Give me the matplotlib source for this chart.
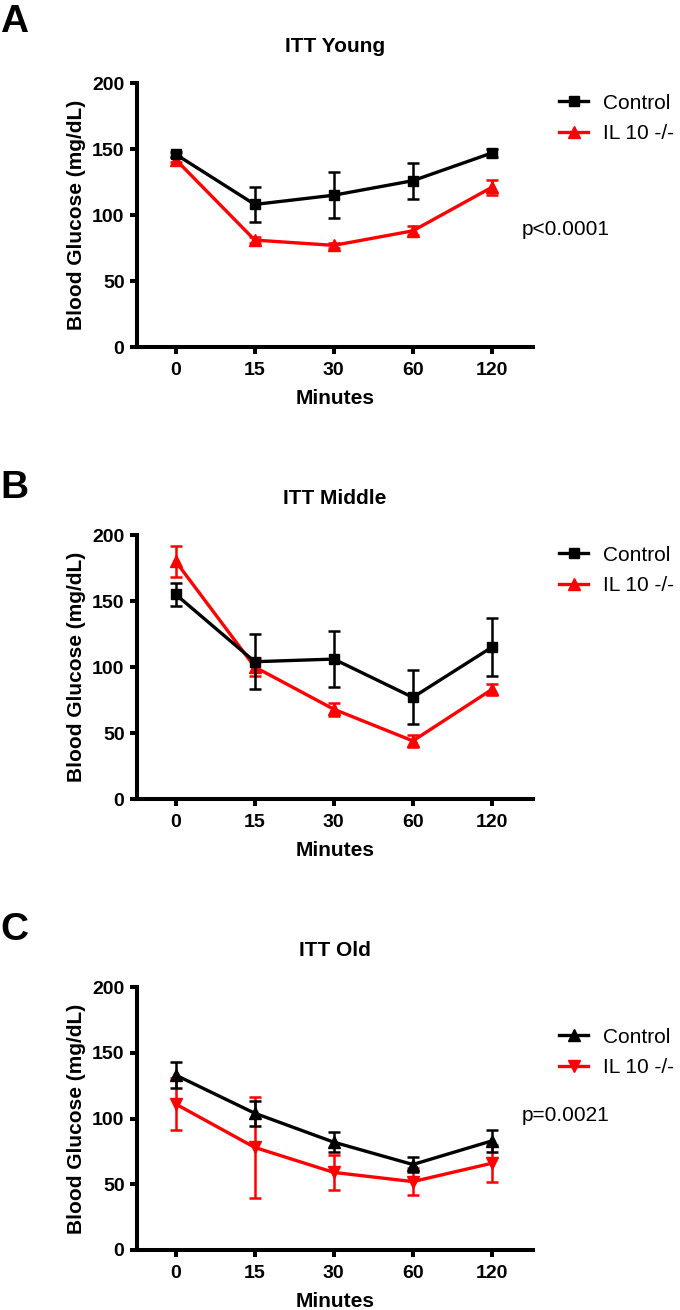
import numpy as np
import matplotlib
matplotlib.use('Agg')
import matplotlib.pyplot as plt
from matplotlib.lines import Line2D

plt.rcParams['font.family'] = ['Liberation Sans', 'DejaVu Sans']

# time points (categorical, evenly spaced)
minutes = ['0', '15', '30', '60', '120']

# ITT Young
young_ctrl = [146, 108, 115, 126, 147]
young_ctrl_err = [2, 13, 17.5, 13.5, 3]
young_ko = [142, 81, 77, 88, 121]
young_ko_err = [2, 2, 2, 3.5, 5.5]

# ITT Middle
middle_ctrl = [155, 104, 106, 77, 115]
middle_ctrl_err = [9, 21, 21, 20.5, 22]
middle_ko = [180, 100, 68, 44, 83]
middle_ko_err = [11.5, 7, 5, 4.5, 4]

# ITT Old
old_ctrl = [133, 104, 82, 65, 83]
old_ctrl_err = [10, 9.5, 7.5, 5.5, 8.5]
old_ko = [111, 78, 59, 52, 66]
old_ko_err = [19.5, 38.5, 13.5, 10.5, 14]

panels = [
    ('A', 'ITT Young', young_ctrl, young_ctrl_err, young_ko, young_ko_err, 's', '^', 'p<0.0001'),
    ('B', 'ITT Middle', middle_ctrl, middle_ctrl_err, middle_ko, middle_ko_err, 's', '^', None),
    ('C', 'ITT Old', old_ctrl, old_ctrl_err, old_ko, old_ko_err, '^', 'v', 'p=0.0021'),
]

# axes frames in pixels: (top, bottom) of the plot area
frames = [(83, 347), (535, 799), (987, 1250)]
letter_y = [4, 470, 912]
legend_top = [0.96, 0.96, 0.845]
pval_y = [0.445, None, 0.51]

W, H = 680, 1310
fig = plt.figure(figsize=(W / 100, H / 100), dpi=100)

RED = '#ff0000'
x = np.arange(len(minutes))


def msize(m):
    # squares look larger than triangles at the same size
    return 7.5 if m == 's' else 8.5


for i, (letter, title, c, ce, k, ke, mc, mk, ptxt) in enumerate(panels):
    top, bot = frames[i]
    ax = fig.add_axes([137 / W, 1 - bot / H, (533 - 137) / W, (bot - top) / H])

    ax.errorbar(x, c, yerr=ce, color='black', lw=2.4, marker=mc, ms=msize(mc),
                elinewidth=1.8, capsize=4, capthick=1.8, zorder=3)
    ax.errorbar(x, k, yerr=ke, color=RED, lw=2.4, marker=mk, ms=msize(mk),
                elinewidth=1.8, capsize=4, capthick=1.8, zorder=2)

    ax.set_xlim(-0.49, 4.52)
    ax.set_ylim(0, 200)
    ax.set_xticks(x)
    ax.set_xticklabels(minutes)
    ax.set_yticks([0, 50, 100, 150, 200])
    for s in ['top', 'right']:
        ax.spines[s].set_visible(False)
    for s in ['left', 'bottom']:
        ax.spines[s].set_linewidth(2.9)
    ax.tick_params(width=2.9, length=5, labelsize=14, pad=4)
    ax.tick_params(axis='x', pad=6)
    for lab in ax.get_xticklabels() + ax.get_yticklabels():
        lab.set_fontweight('bold')

    ax.set_title(title, fontsize=15, fontweight='bold', pad=22)
    ax.set_xlabel('Minutes', fontsize=15, fontweight='bold', labelpad=7)
    ax.set_ylabel('Blood Glucose (mg/dL)', fontsize=15, fontweight='bold', labelpad=4)

    handles = [
        Line2D([], [], color='black', lw=2.4, marker=mc, ms=msize(mc)),
        Line2D([], [], color=RED, lw=2.4, marker=mk, ms=msize(mk)),
    ]
    ax.legend(handles, ['Control', 'IL 10 -/-'], loc='upper left',
              bbox_to_anchor=(1.066, legend_top[i]), frameon=False,
              fontsize=15, handlelength=1.4, handletextpad=0.7,
              borderpad=0, borderaxespad=0, labelspacing=0.55)

    if ptxt:
        ax.text(0.972, pval_y[i], ptxt, transform=ax.transAxes,
                fontsize=15, va='center', ha='left')

    fig.text(0.0, 1 - letter_y[i] / H, letter, fontsize=28,
             fontweight='bold', va='top', ha='left')

fig.savefig('out.png', dpi=100)
